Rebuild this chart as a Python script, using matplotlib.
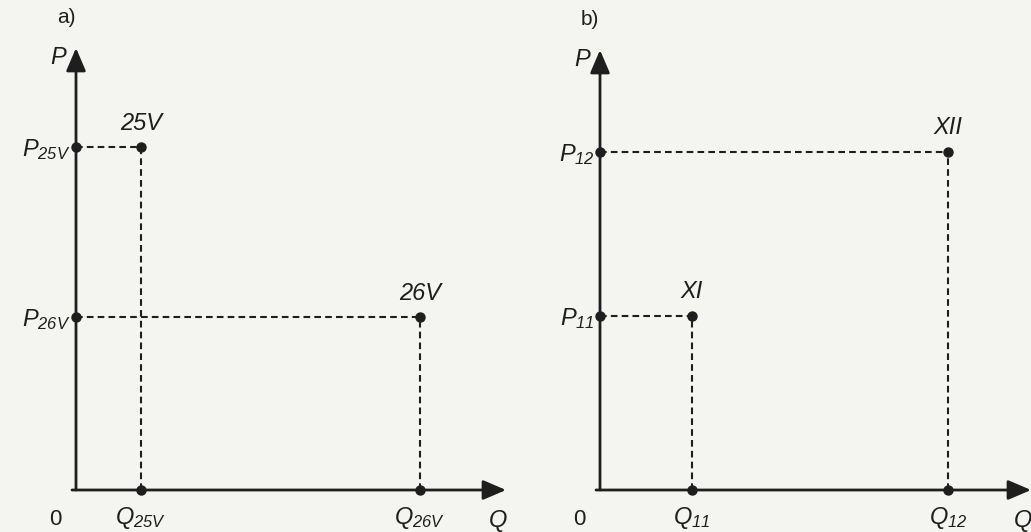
import matplotlib.pyplot as plt

plt.rcParams['font.family'] = ['Liberation Sans', 'DejaVu Sans']
plt.rcParams['mathtext.fontset'] = 'custom'
plt.rcParams['mathtext.it'] = 'Liberation Sans:italic'
plt.rcParams['mathtext.rm'] = 'Liberation Sans:italic'

# panel a: years 25V and 26V
a_names = ['25V', '26V']
a_q = [1.3, 6.88]
a_p = [6.86, 3.46]
a_qlabels = [r'$Q_{25V}$', r'$Q_{26V}$']
a_plabels = [r'$P_{25V}$', r'$P_{26V}$']

# panel b: months XI and XII
b_names = ['XI', 'XII']
b_q = [1.84, 6.96]
b_p = [3.48, 6.76]
b_qlabels = [r'$Q_{11}$', r'$Q_{12}$']
b_plabels = [r'$P_{11}$', r'$P_{12}$']

ink = '#1e1e1e'
W, H = 1031, 532
fig = plt.figure(figsize=(W / 100, H / 100), dpi=100, facecolor='#f4f4f1')


def panel(x0, y0, x1, y1, names, q, p, qlabels, plabels, tag):
    # x0,y0 = origin in pixels, x1,y1 = arrow tips
    ax = fig.add_axes([x0 / W, (H - y0) / H, (x1 - x0) / W, (y0 - y1) / H])
    xmax = (x1 - x0) / 50
    ymax = (y0 - y1) / 50
    ax.set_xlim(0, xmax)
    ax.set_ylim(0, ymax)
    ax.axis('off')

    arrow = dict(arrowstyle='-|>,head_length=0.7,head_width=0.3', color=ink,
                 lw=2, mutation_scale=20, shrinkA=0, shrinkB=0)
    ax.annotate('', xy=(xmax, 0), xytext=(-0.08, 0), arrowprops=arrow, annotation_clip=False)
    ax.annotate('', xy=(0, ymax), xytext=(0, 0), arrowprops=arrow, annotation_clip=False)

    dash = (0, (3.2, 2.0))
    for name, qi, pi, ql, pl in zip(names, q, p, qlabels, plabels):
        ax.plot([0, qi], [pi, pi], ls=dash, color=ink, lw=1.5, clip_on=False)
        ax.plot([qi, qi], [0, pi], ls=dash, color=ink, lw=1.5, clip_on=False)
        ax.plot([qi, 0, qi], [pi, pi, 0], 'o', color=ink, ms=6.5, clip_on=False)
        ax.annotate(name, (qi, pi), xytext=(0, 9), textcoords='offset points',
                    ha='center', va='bottom', fontsize=17, style='italic', color=ink)
        ax.annotate(ql, (qi, 0), xytext=(0, -11), textcoords='offset points',
                    ha='center', va='top', fontsize=17, color=ink, annotation_clip=False)
        ax.annotate(pl, (0, pi), xytext=(-4, -2), textcoords='offset points',
                    ha='right', va='center', fontsize=17, color=ink, annotation_clip=False)

    ax.annotate('0', (0, 0), xytext=(-15, -14), textcoords='offset points',
                ha='center', va='top', fontsize=16, color=ink, annotation_clip=False)
    ax.annotate('Q', (xmax, 0), xytext=(-6, -14), textcoords='offset points',
                ha='center', va='top', fontsize=17, style='italic', color=ink,
                annotation_clip=False)
    ax.annotate('P', (0, ymax), xytext=(-13, -7), textcoords='offset points',
                ha='center', va='center', fontsize=17, style='italic', color=ink,
                annotation_clip=False)
    ax.annotate(tag, (0, ymax), xytext=(-7, 22), textcoords='offset points',
                ha='center', va='center', fontsize=15, color=ink, annotation_clip=False)


panel(76, 490, 506, 48, a_names, a_q, a_p, a_qlabels, a_plabels, 'a)')
panel(600, 490, 1031, 50, b_names, b_q, b_p, b_qlabels, b_plabels, 'b)')

fig.savefig('out.png', dpi=100, facecolor=fig.get_facecolor())
